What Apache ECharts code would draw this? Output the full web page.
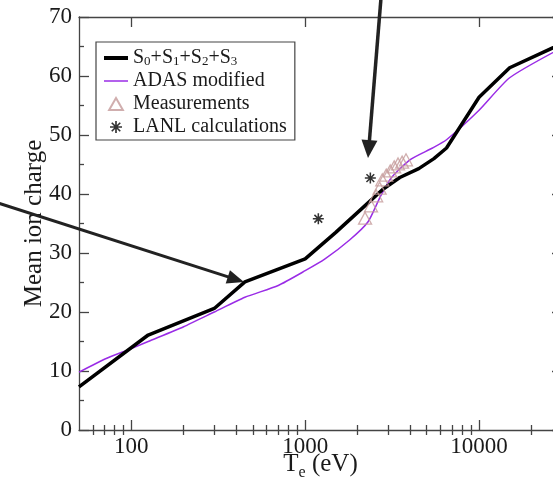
<!DOCTYPE html>
<html><head><meta charset="utf-8">
<script src="https://cdn.jsdelivr.net/npm/echarts@6/dist/echarts.min.js"></script>
<style>html,body{margin:0;padding:0;background:#fff}#c{width:553px;height:484px}</style>
</head><body><div id="c"></div>
<script>
// ---- data ----
const names = ['S0+S1+S2+S3', 'ADAS modified', 'Measurements', 'LANL calculations'];
const sumTe = [50, 125, 300, 450, 1000, 1500, 2300, 2800, 3500, 4500, 5500, 6500, 10000, 15000, 30000];
const sumZ  = [7.3, 16.1, 20.6, 25.1, 29.0, 33.5, 38.5, 40.8, 42.8, 44.3, 46.0, 47.8, 56.4, 61.4, 65.5];
const adasTe = [50, 70, 100, 125, 200, 300, 450, 700, 1000, 1300, 1800, 2300, 2700, 3100, 4000, 5400, 6500, 10000, 15000, 30000];
const adasZ  = [9.8, 12.0, 13.8, 15.0, 17.5, 20.0, 22.5, 24.5, 27.0, 29.0, 32.2, 35.3, 39.5, 42.6, 45.8, 47.8, 49.2, 54.2, 59.7, 64.8];
const measTe = [2210, 2390, 2560, 2680, 2775, 2925, 3085, 3250, 3420, 3610, 3800];
const measZ  = [35.9, 38.0, 39.7, 41.0, 42.4, 43.2, 43.9, 44.6, 45.1, 45.4, 45.8];
const lanlTe = [1190, 2370];
const lanlZ  = [35.8, 42.7];
const xMajor = [100, 1000, 10000];
const xMinor = [60, 70, 80, 90, 200, 300, 400, 500, 600, 700, 800, 900, 2000, 3000, 4000, 5000, 6000, 7000, 8000, 9000, 20000];

// ---- style ----
const FONT = '"Liberation Serif", "Times New Roman", serif';
const AX = '#444';
const TXT = '#1a1a1a';
const asterisk = 'path://M-5,-0.7L5,-0.7L5,0.7L-5,0.7Z M-0.7,-5L0.7,-5L0.7,5L-0.7,5Z M-3.04,-4.03L4.03,3.04L3.04,4.03L-4.03,-3.04Z M-4.03,3.04L3.04,-4.03L4.03,-3.04L-3.04,4.03Z';
const triPath = 'path://M0,-5.5L6.3,5.5L-6.3,5.5Z';

const zip = (a, b) => a.map((v, i) => [v, b[i]]);
const logBase = {type: 'log', logBase: 10, min: 50, max: 30000, splitLine: {show: false}, minorSplitLine: {show: false}};
const lineSt = {color: AX, width: 1.3};

const chart = echarts.init(document.getElementById('c'), null, {renderer: 'canvas'});
chart.setOption({
  animation: false,
  backgroundColor: '#fff',
  grid: {left: 79, top: 17, right: -9, bottom: 54, containLabel: false, outerBoundsMode: 'none'},
  xAxis: [
    Object.assign({}, logBase, {
      position: 'bottom',
      axisLine: {show: true, onZero: false, lineStyle: lineSt},
      axisTick: {show: true, inside: true, length: 10, customValues: xMajor, lineStyle: lineSt},
      axisLabel: {show: true, customValues: xMajor, fontFamily: FONT, fontSize: 23, color: TXT, margin: 5, formatter: v => String(Math.round(v))},
      name: 'T{sub|e} (eV)', nameLocation: 'middle', nameGap: 18, nameMoveOverlap: false,
      nameTextStyle: {fontFamily: FONT, fontSize: 25, color: TXT,
        rich: {sub: {fontFamily: FONT, fontSize: 16, color: TXT, verticalAlign: 'bottom', padding: [17, 0, 0, 0]}}}
    }),
    Object.assign({}, logBase, {
      position: 'bottom',
      axisLine: {show: false},
      axisTick: {show: true, inside: true, length: 5, customValues: xMinor, lineStyle: lineSt},
      axisLabel: {show: false}
    }),
    Object.assign({}, logBase, {
      position: 'top',
      axisLine: {show: true, onZero: false, lineStyle: lineSt},
      axisTick: {show: true, inside: true, length: 10, customValues: xMajor, lineStyle: lineSt},
      axisLabel: {show: false}
    }),
    Object.assign({}, logBase, {
      position: 'top',
      axisLine: {show: false},
      axisTick: {show: true, inside: true, length: 5, customValues: xMinor, lineStyle: lineSt},
      axisLabel: {show: false}
    })
  ],
  yAxis: [
    {
      type: 'value', min: 0, max: 70, interval: 10, position: 'left',
      axisLine: {show: true, onZero: false, lineStyle: lineSt},
      axisTick: {show: true, inside: true, length: 10, lineStyle: lineSt},
      minorTick: {show: true, splitNumber: 2, length: 5, lineStyle: lineSt},
      axisLabel: {fontFamily: FONT, fontSize: 23, color: TXT, margin: 7},
      splitLine: {show: false}, minorSplitLine: {show: false},
      name: 'Mean ion charge', nameLocation: 'middle', nameGap: 32, nameRotate: 90, nameMoveOverlap: false,
      nameTextStyle: {fontFamily: FONT, fontSize: 25, color: TXT}
    },
    {
      type: 'value', min: 0, max: 70, interval: 10, position: 'right',
      axisLine: {show: true, onZero: false, lineStyle: lineSt},
      axisTick: {show: true, inside: true, length: 10, lineStyle: lineSt},
      minorTick: {show: true, splitNumber: 2, length: 5, lineStyle: lineSt},
      axisLabel: {show: false},
      splitLine: {show: false}, minorSplitLine: {show: false}
    }
  ],
  legend: {
    orient: 'vertical', left: 96, top: 42,
    backgroundColor: '#fff',
    borderColor: AX, borderWidth: 1.2, borderRadius: 0,
    padding: [6, 8, 3, 6], itemGap: 3, itemWidth: 24, itemHeight: 12,
    symbolKeepAspect: true,
    textStyle: {fontFamily: FONT, fontSize: 20, color: TXT,
      rich: {sub: {fontFamily: FONT, fontSize: 13, color: TXT, verticalAlign: 'bottom', padding: [7, 0, 0, 0]}}},
    formatter: n => n === names[0] ? 'S{sub|0}+S{sub|1}+S{sub|2}+S{sub|3}' : n,
    data: [
      {name: names[0], lineStyle: {width: 4}, itemStyle: {opacity: 0, borderWidth: 0}},
      {name: names[1], lineStyle: {width: 1.5}, itemStyle: {opacity: 0, borderWidth: 0}},
      {name: names[2], icon: triPath},
      {name: names[3], icon: asterisk}
    ]
  },
  series: [
    {
      name: names[1], type: 'line', xAxisIndex: 0, yAxisIndex: 0,
      data: zip(adasTe, adasZ), showSymbol: false, symbol: 'none', smooth: 0.2,
      lineStyle: {color: '#9a2ce6', width: 1.5}, itemStyle: {color: '#9a2ce6'}, z: 3
    },
    {
      name: names[0], type: 'line', xAxisIndex: 0, yAxisIndex: 0,
      data: zip(sumTe, sumZ), showSymbol: false, symbol: 'none',
      lineStyle: {color: '#000', width: 3.5}, itemStyle: {color: '#000'}, z: 4
    },
    {
      name: names[2], type: 'scatter', xAxisIndex: 0, yAxisIndex: 0,
      data: zip(measTe, measZ), symbol: 'triangle', symbolSize: [13, 12],
      itemStyle: {color: 'rgba(255,255,255,0)', borderColor: '#c49a9a', borderWidth: 1.3}, z: 5
    },
    {
      name: names[3], type: 'scatter', xAxisIndex: 0, yAxisIndex: 0,
      data: zip(lanlTe, lanlZ), symbol: asterisk, symbolSize: 11,
      itemStyle: {color: '#000'}, z: 6
    }
  ]
});

// ---- annotation arrows ----
function arrow(sx, sy, tx, ty, L, W, lw) {
  const dx = tx - sx, dy = ty - sy, len = Math.hypot(dx, dy);
  const ux = dx / len, uy = dy / len, nx = -uy, ny = ux;
  const bx = tx - L * ux, by = ty - L * uy;
  return [
    {type: 'line', shape: {x1: sx, y1: sy, x2: bx + ux * 2, y2: by + uy * 2}, style: {stroke: '#222', lineWidth: lw}, z: 100},
    {type: 'polygon', shape: {points: [[tx, ty], [bx + W * nx, by + W * ny], [bx - W * nx, by - W * ny]]}, style: {fill: '#222'}, z: 100}
  ];
}
chart.setOption({graphic: [].concat(
  arrow(-2, 203, 244, 282, 17, 7, 3),
  arrow(381, -2, 368, 158, 18, 8, 3.5)
)});
</script></body></html>
